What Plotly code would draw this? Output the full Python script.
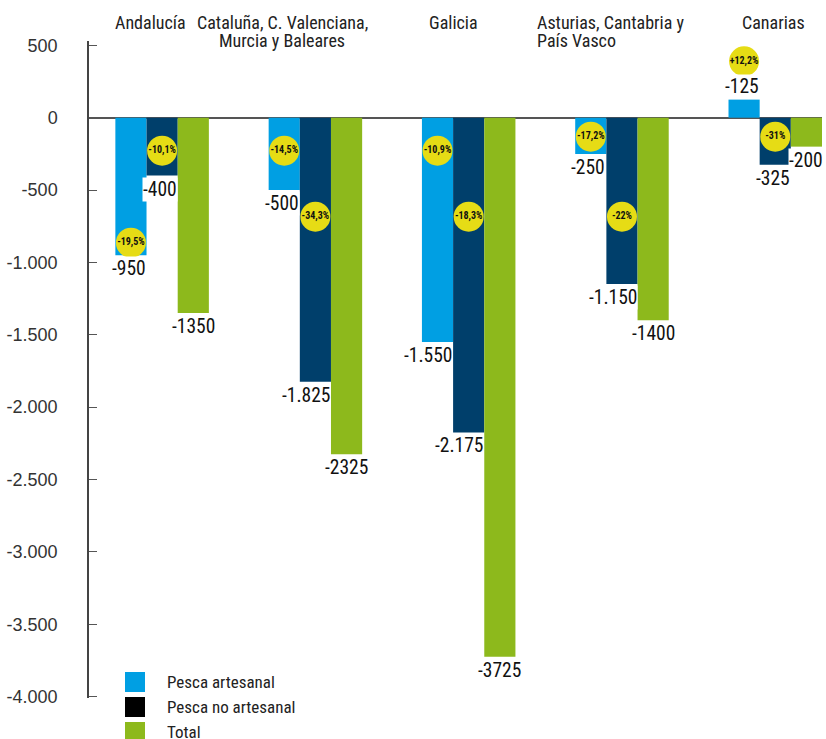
import plotly.graph_objects as go

# Regions (title lines) and series values
region_lines = [["Andalucía"], ["Cataluña, C. Valenciana,", "Murcia y Baleares"], ["Galicia"],
                ["Asturias, Cantabria y", "País Vasco"], ["Canarias"]]
artesanal = [-950, -500, -1550, -250, 125]
no_artesanal = [-400, -1825, -2175, -1150, -325]
total = [-1350, -2325, -3725, -1400, -200]

artesanal_labels = ["-950", "-500", "-1.550", "-250", "-125"]
no_artesanal_labels = ["-400", "-1.825", "-2.175", "-1.150", "-325"]
total_labels = ["-1350", "-2325", "-3725", "-1400", "-200"]

# Percentage change badges
pct_artesanal = ["-19,5%", "-14,5%", "-10,9%", "-17,2%", "+12,2%"]
pct_no_artesanal = ["-10,1%", "-34,3%", "-18,3%", "-22%", "-31%"]

y_ticks = [500, 0, -500, -1000, -1500, -2000, -2500, -3000, -3500, -4000]
y_ticktext = ["500", "0", "-500", "-1.000", "-1.500", "-2.000", "-2.500", "-3.000", "-3.500", "-4.000"]

# Badge placement (vertical position in axis units)
badge_y_art = [-864, -228, -228, -131, 390]
badge_y_noart = [-228, -684, -684, -684, -131]

BLUE = "#009FE3"
NAVY = "#003F6B"
GREEN = "#8DB91C"
YELLOW = "#E6DC15"
COND = "Roboto Condensed, DejaVu Sans Condensed, sans-serif"

x_idx = list(range(len(region_lines)))
BARGAP = 0.39
bar_w = (1 - BARGAP) / 3

fig = go.Figure()
series = [(artesanal, artesanal_labels, BLUE, -1),
          (no_artesanal, no_artesanal_labels, NAVY, 0),
          (total, total_labels, GREEN, 1)]
for vals, labels, color, k in series:
    fig.add_trace(go.Bar(
        x=x_idx, y=vals, marker=dict(color=color, line=dict(width=0)),
        showlegend=False, hoverinfo="skip"))

# Value labels on white boxes under (or above) each bar end
for vals, labels, color, k in series:
    for i, (v, lab) in enumerate(zip(vals, labels)):
        centre = i + k * bar_w
        if k == 1:
            xa, xpos = "center", centre
        else:
            xa, xpos = "right", centre + bar_w / 2
        neg = v < 0
        fig.add_annotation(x=xpos, y=v, xref="x", yref="y", text=lab, showarrow=False,
                           xanchor=xa, yanchor="top" if neg else "bottom",
                           yshift=-1 if neg else 1, bgcolor="white", borderpad=0,
                           font=dict(family=COND, size=19.5, color="#111"))

for k, pcts, ys in [(-1, pct_artesanal, badge_y_art), (0, pct_no_artesanal, badge_y_noart)]:
    fig.add_trace(go.Scatter(
        x=[i + k * bar_w for i in x_idx], y=ys, mode="markers+text",
        marker=dict(size=30, color=YELLOW, line=dict(width=0)),
        text=pcts, textposition="middle center",
        textfont=dict(family=COND, size=10, color="#111", weight="bold"),
        showlegend=False, hoverinfo="skip", cliponaxis=False))

# Region titles along the top
title_specs = [(0, -12, "center"), (1, -33, "center"), (2, -15, "center"), (3, -87, "left"), (4, -2, "center")]
for (i, dx, anchor), lines in zip(title_specs, region_lines):
    for j, line in enumerate(lines):
        fig.add_annotation(x=i, y=1, xref="x", yref="paper", yshift=19 - 18 * j, xshift=dx,
                           text=line, showarrow=False, xanchor=anchor, yanchor="middle",
                           font=dict(family=COND, size=18, color="#222"))

# Legend drawn as swatches with labels
legend_items = [("Pesca artesanal", BLUE), ("Pesca no artesanal", "#000000"), ("Total", GREEN)]
for k, (name, color) in enumerate(legend_items):
    yc = 682 + 25 * k
    fig.add_shape(type="rect", xref="paper", yref="paper",
                  x0=(125 - 89) / 733, x1=(145 - 89) / 733,
                  y0=(739 - 41 - (yc + 10)) / 657, y1=(739 - 41 - (yc - 10)) / 657,
                  fillcolor=color, line=dict(width=0))
    fig.add_annotation(xref="paper", yref="paper", x=(165 - 89) / 733,
                       y=(739 - 41 - yc) / 657, text=name, showarrow=False,
                       xanchor="left", yanchor="middle",
                       font=dict(family=COND, size=17, color="#222"))

fig.update_layout(
    width=826, height=739,
    margin=dict(l=89, r=4, t=41, b=41),
    plot_bgcolor="white", paper_bgcolor="white",
    barmode="group", bargap=BARGAP, bargroupgap=0,
    showlegend=False,
    xaxis=dict(range=[-0.477, 4.305], visible=False, fixedrange=True),
    yaxis=dict(range=[-4010, 530], tickvals=y_ticks, ticktext=y_ticktext,
               ticks="inside", ticklen=8, tickcolor="#555", tickwidth=1.3,
               showline=True, linecolor="#444", linewidth=1.5,
               showgrid=False, zeroline=True, zerolinecolor="#555", zerolinewidth=1.5,
               ticklabelstandoff=26,
               tickfont=dict(family="Liberation Sans, Arial, sans-serif", size=18, color="#333")),
)

fig.write_html("out.html")
